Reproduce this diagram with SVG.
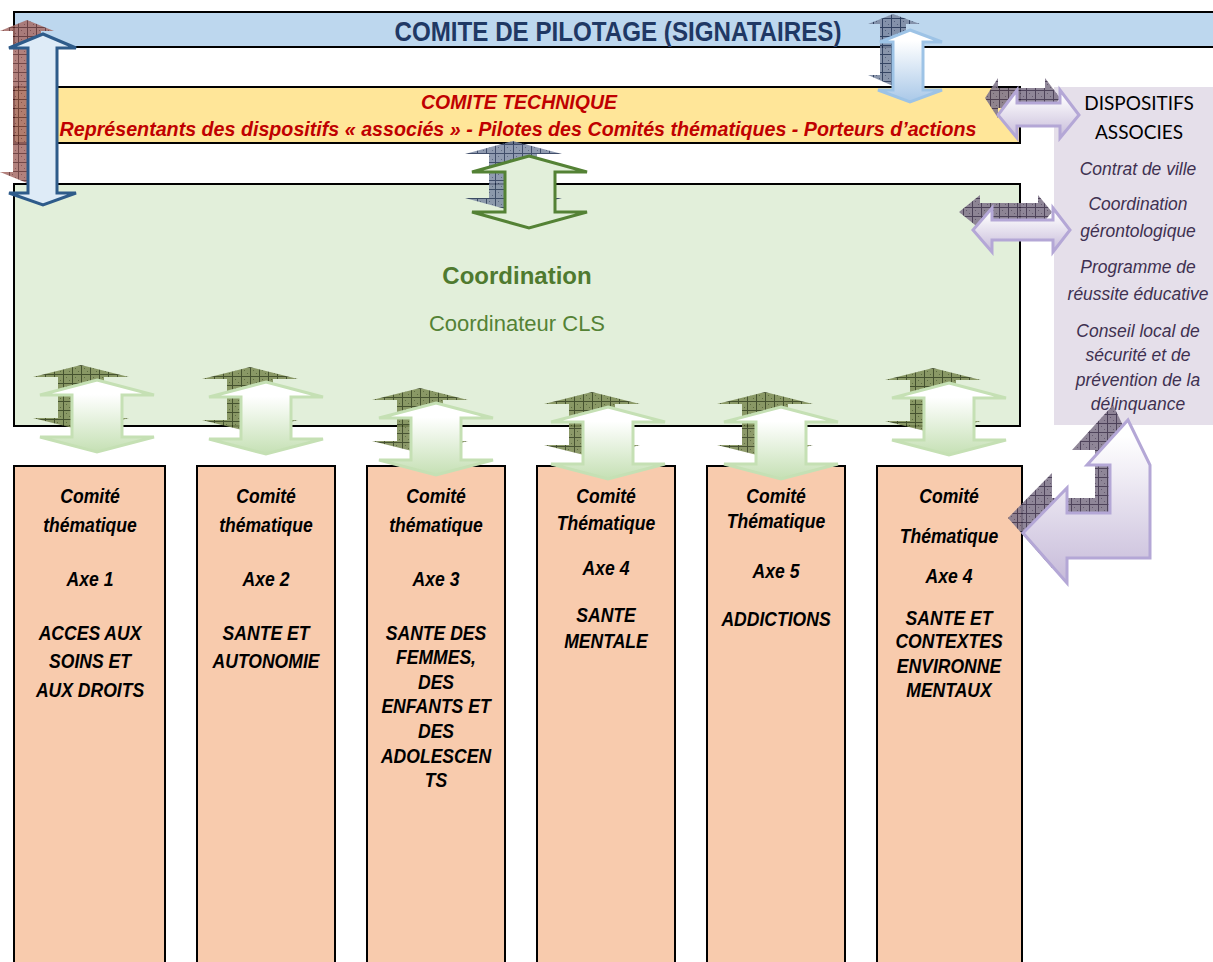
<svg xmlns="http://www.w3.org/2000/svg" width="1213" height="962" viewBox="0 0 1213 962">
<style>
.box{stroke:#000;stroke-width:2}
.t{font-family:"Liberation Sans",Arial,sans-serif}
.cm{font-family:"Liberation Sans",Arial,sans-serif;font-size:19.5px;font-weight:bold;font-style:italic;fill:#000;text-anchor:middle}
.rp{font-family:"Liberation Sans",Arial,sans-serif;font-size:19px;font-style:italic;fill:#3f3151;text-anchor:middle}
.ga{fill:url(#gGreen);stroke:#c5e0b4;stroke-width:3;stroke-linejoin:miter}
.la{fill:url(#gLilac);stroke:#b4a7d6;stroke-width:3}
</style>
<defs>
<linearGradient id="gGreen" x1="0" y1="0" x2="0" y2="1"><stop offset="0.2" stop-color="#ffffff"/><stop offset="1" stop-color="#c5e0b4"/></linearGradient>
<linearGradient id="gBlue" x1="0" y1="0" x2="0" y2="1"><stop offset="0.15" stop-color="#ffffff"/><stop offset="1" stop-color="#a9c8e8"/></linearGradient>
<linearGradient id="gLilac" x1="0" y1="0" x2="0" y2="1"><stop offset="0.1" stop-color="#ffffff"/><stop offset="1" stop-color="#c6bad9"/></linearGradient>
<pattern id="pOlive" width="9" height="9" patternUnits="userSpaceOnUse"><rect width="9" height="9" fill="#7f8e58"/><rect x="3" y="3" width="1" height="1" fill="#4f5f30"/><rect x="6" y="6" width="1" height="1" fill="#4f5f30"/><path d="M0 0.5H9M0.5 0V9" stroke="#34401c" stroke-width="1"/></pattern>
<pattern id="pNavy" width="9" height="9" patternUnits="userSpaceOnUse"><rect width="9" height="9" fill="#7c89a2"/><rect x="3" y="3" width="1" height="1" fill="#44526f"/><rect x="6" y="6" width="1" height="1" fill="#44526f"/><path d="M0 0.5H9M0.5 0V9" stroke="#1f2f50" stroke-width="1"/></pattern>
<pattern id="pBrown" width="9" height="9" patternUnits="userSpaceOnUse"><rect width="9" height="9" fill="#a56b66"/><rect x="3" y="3" width="1" height="1" fill="#743a3a"/><rect x="6" y="6" width="1" height="1" fill="#743a3a"/><path d="M0 0.5H9M0.5 0V9" stroke="#5a2626" stroke-width="1"/></pattern>
<pattern id="pPurple" width="9" height="9" patternUnits="userSpaceOnUse"><rect width="9" height="9" fill="#83788c"/><rect x="3" y="3" width="1" height="1" fill="#554a60"/><rect x="6" y="6" width="1" height="1" fill="#554a60"/><path d="M0 0.5H9M0.5 0V9" stroke="#3a2e48" stroke-width="1"/></pattern>
<polygon id="vArrow" points="0,0 57,15 25,15 25,57 57,57 0,72 -57,57 -25,57 -25,15 -57,15"/>
<polygon id="vShadow" points="0,0 48,12 23,12 23,53 48,53 0,65 -48,53 -23,53 -23,12 -48,12"/>
</defs>
<rect width="1213" height="962" fill="#ffffff"/>

<g id="pilotage">
<rect class="box" x="14" y="12" width="1210" height="35" fill="#bdd7ee"/>
<text class="t" x="618" y="41" font-size="27" font-weight="bold" fill="#1f3864" text-anchor="middle" textLength="447" lengthAdjust="spacingAndGlyphs">COMITE DE PILOTAGE (SIGNATAIRES)</text>
</g>

<g id="technique">
<rect class="box" x="14" y="87" width="1006" height="56" fill="#ffe699"/>
<text class="t" x="519" y="109" font-size="19.5" font-weight="bold" font-style="italic" fill="#c00000" text-anchor="middle" textLength="196" lengthAdjust="spacingAndGlyphs">COMITE TECHNIQUE</text>
<text class="t" x="518" y="136" font-size="19.5" font-weight="bold" font-style="italic" fill="#c00000" text-anchor="middle" textLength="917" lengthAdjust="spacingAndGlyphs">Représentants des dispositifs « associés » - Pilotes des Comités thématiques - Porteurs d’actions</text>
</g>

<g id="coordination">
<rect class="box" x="14" y="184" width="1006" height="242" fill="#e2efda"/>
<text class="t" x="517" y="284" font-size="24" font-weight="bold" fill="#4f7a2f" text-anchor="middle">Coordination</text>
<text class="t" x="517" y="331" font-size="22" fill="#548235" text-anchor="middle">Coordinateur CLS</text>
</g>

<g id="dispositifs">
<rect x="1054" y="87" width="165" height="338" fill="#e5dfea"/>
<text x="1139" y="110" font-family="Lato,'Open Sans',sans-serif" font-size="19" fill="#000" text-anchor="middle">DISPOSITIFS</text>
<text x="1139" y="139" font-family="Lato,'Open Sans',sans-serif" font-size="19" fill="#000" text-anchor="middle">ASSOCIES</text>
<g transform="translate(1138 0) scale(0.92 1)">
<text class="rp" x="0" y="175">Contrat de ville</text>
<text class="rp" x="0" y="210">Coordination</text>
<text class="rp" x="0" y="237">gérontologique</text>
<text class="rp" x="0" y="273">Programme de</text>
<text class="rp" x="0" y="300">réussite éducative</text>
<text class="rp" x="0" y="337">Conseil local de</text>
<text class="rp" x="0" y="361">sécurité et de</text>
<text class="rp" x="0" y="386">prévention de la</text>
<text class="rp" x="0" y="410">délinquance</text>
</g>
</g>

<g id="comite1">
<rect class="box" x="14" y="466" width="151" height="510" fill="#f8cbad"/>
<g transform="translate(90 0) scale(0.9 1)">
<text class="cm" x="0" y="503">Comité</text>
<text class="cm" x="0" y="532">thématique</text>
<text class="cm" x="0" y="586">Axe 1</text>
<text class="cm" x="0" y="640">ACCES AUX</text>
<text class="cm" x="0" y="668">SOINS ET</text>
<text class="cm" x="0" y="697">AUX DROITS</text>
</g>
</g>
<g id="comite2">
<rect class="box" x="197" y="466" width="138" height="510" fill="#f8cbad"/>
<g transform="translate(266 0) scale(0.9 1)">
<text class="cm" x="0" y="503">Comité</text>
<text class="cm" x="0" y="532">thématique</text>
<text class="cm" x="0" y="586">Axe 2</text>
<text class="cm" x="0" y="640">SANTE ET</text>
<text class="cm" x="0" y="668">AUTONOMIE</text>
</g>
</g>
<g id="comite3">
<rect class="box" x="367" y="466" width="138" height="510" fill="#f8cbad"/>
<g transform="translate(436 0) scale(0.9 1)">
<text class="cm" x="0" y="503">Comité</text>
<text class="cm" x="0" y="532">thématique</text>
<text class="cm" x="0" y="586">Axe 3</text>
<text class="cm" x="0" y="640">SANTE DES</text>
<text class="cm" x="0" y="664">FEMMES,</text>
<text class="cm" x="0" y="689">DES</text>
<text class="cm" x="0" y="713">ENFANTS ET</text>
<text class="cm" x="0" y="738">DES</text>
<text class="cm" x="0" y="763">ADOLESCEN</text>
<text class="cm" x="0" y="787">TS</text>
</g>
</g>
<g id="comite4">
<rect class="box" x="537" y="466" width="138" height="510" fill="#f8cbad"/>
<g transform="translate(606 0) scale(0.9 1)">
<text class="cm" x="0" y="503">Comité</text>
<text class="cm" x="0" y="530">Thématique</text>
<text class="cm" x="0" y="575">Axe 4</text>
<text class="cm" x="0" y="622">SANTE</text>
<text class="cm" x="0" y="648">MENTALE</text>
</g>
</g>
<g id="comite5">
<rect class="box" x="707" y="466" width="138" height="510" fill="#f8cbad"/>
<g transform="translate(776 0) scale(0.9 1)">
<text class="cm" x="0" y="503">Comité</text>
<text class="cm" x="0" y="528">Thématique</text>
<text class="cm" x="0" y="578">Axe 5</text>
<text class="cm" x="0" y="626">ADDICTIONS</text>
</g>
</g>
<g id="comite6">
<rect class="box" x="877" y="466" width="145" height="510" fill="#f8cbad"/>
<g transform="translate(949 0) scale(0.9 1)">
<text class="cm" x="0" y="503">Comité</text>
<text class="cm" x="0" y="543">Thématique</text>
<text class="cm" x="0" y="583">Axe 4</text>
<text class="cm" x="0" y="625">SANTE ET</text>
<text class="cm" x="0" y="648">CONTEXTES</text>
<text class="cm" x="0" y="673">ENVIRONNE</text>
<text class="cm" x="0" y="697">MENTAUX</text>
</g>
</g>

<g id="connectors">
<polygon points="27,20 54,31 41,31 41,172 54,172 27,183 0,172 13,172 13,31 0,31" fill="url(#pBrown)" opacity="0.85"/>
<polygon points="43,34 76,48 57,48 57,193 76,193 43,205 9,193 28,193 28,48 9,48" fill="#deebf7" stroke="#2e5b8a" stroke-width="3"/>
<polygon points="893,14 920,24 906,24 906,75 920,75 893,86 868,75 880,75 880,24 868,24" fill="url(#pNavy)" opacity="0.9"/>
<polygon points="910,30 942,42 923,42 923,90 942,90 910,102 878,90 893,90 893,42 880,42" fill="url(#gBlue)" stroke="#9dc3e6" stroke-width="3"/>
<polygon points="985,98 998,78 998,88 1045,88 1045,78 1060,98 1045,118 1045,108 998,108 998,118" fill="url(#pPurple)" opacity="0.9"/>
<polygon class="la" points="998,115 1017,90 1017,103 1060,103 1060,90 1079,115 1060,138 1060,126 1017,126 1017,138"/>
<polygon points="959,212 980,195 980,203 1038,203 1038,195 1052,212 1038,229 1038,221 980,221 980,229" fill="url(#pPurple)" opacity="0.9"/>
<polygon class="la" points="973,230 992,208 992,220 1053,220 1053,208 1070,230 1053,252 1053,240 992,240 992,252"/>
<polygon points="513,141 562,154 537,154 537,198 562,198 513,211 465,198 489,198 489,154 465,154" fill="url(#pNavy)" opacity="0.85"/>
<polygon points="529,156 587,172 555,172 555,212 587,212 529,228 472,212 505,212 505,172 472,172" fill="#e2efda" stroke="#548235" stroke-width="3"/>
<use href="#vShadow" x="81" y="365" fill="url(#pOlive)" opacity="0.9"/>
<use href="#vArrow" x="97" y="380" class="ga"/>
<use href="#vShadow" x="250" y="367" fill="url(#pOlive)" opacity="0.9"/>
<use href="#vArrow" x="266" y="382" class="ga"/>
<use href="#vShadow" x="420" y="388" fill="url(#pOlive)" opacity="0.9"/>
<use href="#vArrow" x="436" y="403" class="ga"/>
<use href="#vShadow" x="592" y="392" fill="url(#pOlive)" opacity="0.9"/>
<use href="#vArrow" x="608" y="407" class="ga"/>
<use href="#vShadow" x="765" y="392" fill="url(#pOlive)" opacity="0.9"/>
<use href="#vArrow" x="781" y="407" class="ga"/>
<use href="#vShadow" x="933" y="368" fill="url(#pOlive)" opacity="0.9"/>
<use href="#vArrow" x="949" y="383" class="ga"/>
<polygon points="1113,405 1135,450 1135,543 1052,543 1052,568 1008,518 1052,473 1052,498 1095,498 1095,450 1072,450" fill="url(#pPurple)" opacity="0.9"/>
<polygon class="la" points="1128,420 1150,465 1150,558 1067,558 1067,583 1023,533 1067,488 1067,513 1110,513 1110,465 1087,465"/>
</g>
</svg>
